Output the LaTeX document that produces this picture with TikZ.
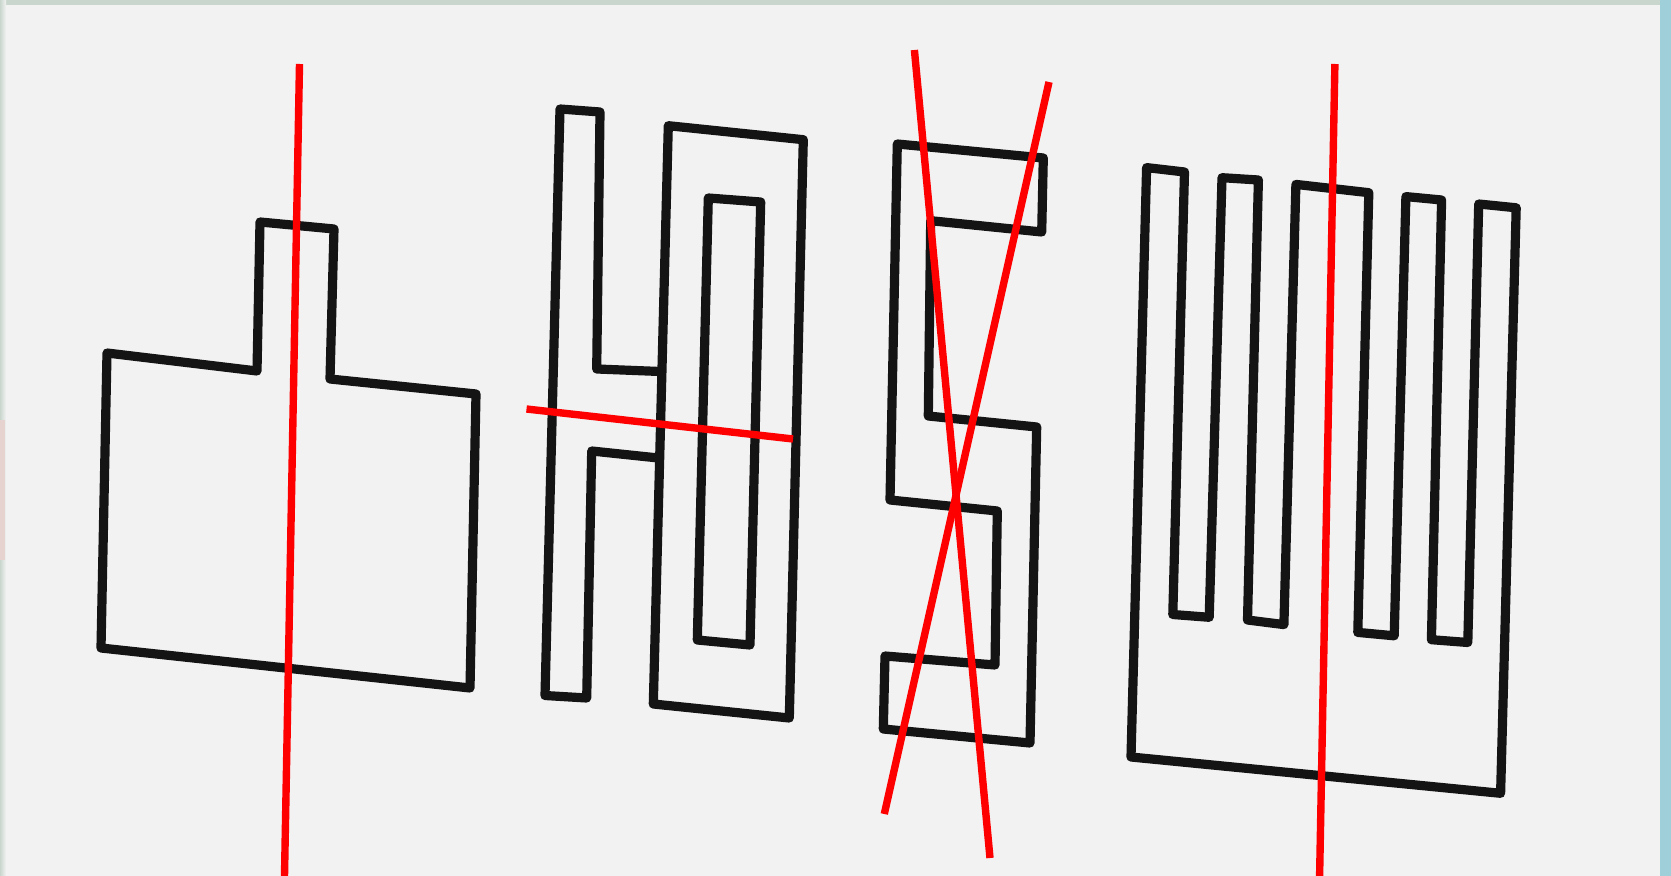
\documentclass[tikz,border=0pt]{standalone}
\usepackage{tikz}

\definecolor{paper}{HTML}{F2F2F2}
\definecolor{cutred}{HTML}{FF0000}
\definecolor{edgeL}{HTML}{E6D2CF}
\definecolor{edgeT}{HTML}{C9D6CE}
\definecolor{edgeR}{HTML}{9FCFD8}

\begin{document}
\begin{tikzpicture}[x=0.5pt,y=-0.5pt,
  outline/.style={line width=4.6pt,line join=round,draw=black!92},
  cut/.style={line width=3.7pt,draw=cutred}]
\useasboundingbox (0,0) rectangle (1671,876);
\fill[paper] (0,0) rectangle (1671,876);
\fill[edgeT] (0,0) rectangle (1671,5);
\fill[left color=edgeT,right color=paper] (0,0) rectangle (6,876);
\fill[edgeL] (0,420) rectangle (5,560);
\fill[edgeR] (1660,0) rectangle (1671,876);

% T shape
\draw[outline] (107,353) -- (257,371) -- (260,222) -- (334,229) -- (330,379)
  -- (476,394) -- (470,688) -- (101,648) -- cycle;

% bar with the two arms
\draw[outline] (660,371.5) -- (596.7,369) -- (600,112) -- (560,109)
  -- (545,695.5) -- (586.7,698) -- (591.7,451) -- (658.3,458);
% frame and hole
\draw[outline] (668.3,125.7) -- (803.3,139.7) -- (789.3,718) -- (653.3,704) -- cycle;
\draw[outline] (708.3,198) -- (760.7,202) -- (750,645) -- (697.3,640) -- cycle;

% S shape
\draw[outline] (897.3,144) -- (1043.3,158) -- (1041.7,232) -- (930.7,220.7)
  -- (928.3,416) -- (1036.7,427) -- (1030,743) -- (883.3,729) -- (885,656)
  -- (995,665) -- (997.3,511) -- (890,500) -- cycle;

% comb shape
\draw[outline] (1131,757) -- (1146.6,167.6) -- (1184.5,172) -- (1172.8,614.5)
  -- (1209.2,617.3) -- (1222,177.7) -- (1258.4,180) -- (1247.5,620)
  -- (1283.9,624.6) -- (1295.9,184.4) -- (1368.8,192.7) -- (1357.8,632.4)
  -- (1394.2,635.8) -- (1405.9,196.6) -- (1441.6,200) -- (1431.4,639.7)
  -- (1467.8,642.5) -- (1478.7,204) -- (1516.2,207.8) -- (1500.6,793.3) -- cycle;

% red axes
\coordinate (t1) at (299.5,64);   \coordinate (b1) at (284.5,876);
\coordinate (l2) at (526.5,409);  \coordinate (r2) at (793,439);
\coordinate (t3) at (914.4,50);   \coordinate (b3) at (990,858);
\coordinate (t4) at (1049,82);    \coordinate (b4) at (884.3,814);
\coordinate (t5) at (1334.9,64);  \coordinate (b5) at (1319.6,876);
\draw[cut] (t1) -- (b1);
\draw[cut] (l2) -- (r2);
\draw[cut] (t3) -- (b3);
\draw[cut] (t4) -- (b4);
\draw[cut] (t5) -- (b5);
\end{tikzpicture}
\end{document}
